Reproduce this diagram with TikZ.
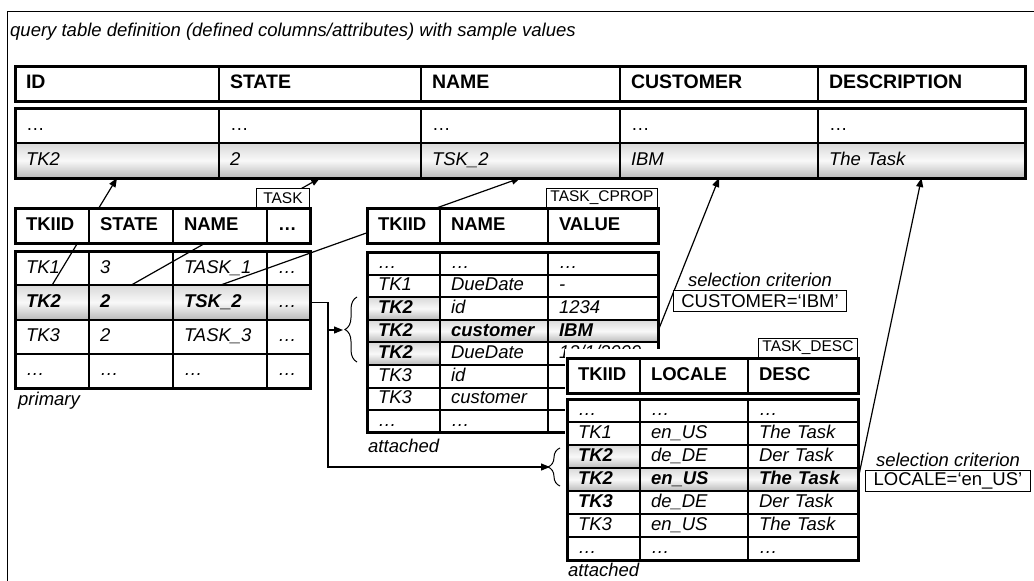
\documentclass[tikz,border=0pt]{standalone}
\usepackage{fontspec}
\setmainfont{Liberation Sans}
\usepackage{tikz}
\usetikzlibrary{arrows.meta, positioning, calc, decorations.pathreplacing}
\newcommand{\cellstrut}{\rule[-3pt]{0pt}{16pt}}

\begin{document}
\begin{tikzpicture}[
    x=1pt, y=-1pt,
    node distance=0pt,
    cell/.style={draw, line width=2pt, fill=white, inner xsep=11pt, inner ysep=0pt, outer sep=0pt, align=left, font=\fontsize{18.5}{20}\selectfont, execute at begin node=\cellstrut},
    val/.style={cell, font=\fontsize{18.5}{20}\selectfont\itshape},
    key/.style={cell, font=\fontsize{18.5}{20}\selectfont\bfseries\itshape},
    head/.style={cell, font=\fontsize{18.5}{20}\selectfont\bfseries},
    bighead/.style={cell, line width=1.5pt, font=\fontsize{19.5}{20}\selectfont\bfseries},
    hit/.style={top color=gray!30, bottom color=gray!55, middle color=gray!5},
    tabframe/.style={draw, line width=3pt},
    tablbl/.style={draw, line width=1pt, fill=white, anchor=south east, inner xsep=4pt, inner ysep=0pt, minimum height=19pt, font=\fontsize{15.5}{16}\selectfont},
    crit/.style={draw, line width=1pt, fill=white, inner xsep=8pt, inner ysep=0pt, minimum height=21pt, font=\fontsize{18.5}{20}\selectfont},
    note/.style={inner sep=0pt, font=\fontsize{18.5}{20}\selectfont\itshape},
    link/.style={-{Triangle[length=9pt, width=7pt]}, line width=1.2pt},
    curly/.style={decorate, decoration={brace, amplitude=12pt}, line width=1pt},
    % column widths
    qa/.style={text width=182pt}, qb/.style={text width=180pt}, qc/.style={text width=177pt},
    qd/.style={text width=176pt}, qe/.style={text width=185pt},
    pa/.style={text width=52pt}, pb/.style={text width=62pt}, pc/.style={text width=72pt}, pd/.style={text width=21pt},
    ca/.style={text width=51pt}, cb/.style={text width=86pt}, cc/.style={text width=88pt},
    % row heights
    tall/.style={minimum height=35pt},
    prow/.style={minimum height=34.25pt},
    crow/.style={minimum height=22.6pt},
    drow/.style={minimum height=23pt}
]
\useasboundingbox (0,0) rectangle (1034,581);
\clip (0,0) rectangle (1034,581);

\draw[line width=1pt] (7,11) rectangle (1050,600);
\node[note, anchor=base west] (caption) at (10,36) {query table definition (defined columns/attributes) with sample values};

% Query table
\node[bighead, qa, tall, anchor=north west] (qh_id) at (15,66) {ID};
\node[bighead, qb, tall, right=of qh_id] (qh_state) {STATE};
\node[bighead, qc, tall, right=of qh_state] (qh_name) {NAME};
\node[bighead, qd, tall, right=of qh_name] (qh_cust) {CUSTOMER};
\node[bighead, qe, tall, right=of qh_cust] (qh_desc) {DESCRIPTION};
\draw[tabframe] (qh_id.north west) rectangle (qh_desc.south east);

\node[cell, qa, tall, below=7pt of qh_id] (qd_id) {…};
\node[cell, qb, tall, right=of qd_id] (qd_state) {…};
\node[cell, qc, tall, right=of qd_state] (qd_name) {…};
\node[cell, qd, tall, right=of qd_name] (qd_cust) {…};
\node[cell, qe, tall, right=of qd_cust] (qd_desc) {…};
\node[val, hit, qa, tall, below=of qd_id] (qv_id) {TK2};
\node[val, hit, qb, tall, right=of qv_id] (qv_state) {2};
\node[val, hit, qc, tall, right=of qv_state] (qv_name) {TSK\_2};
\node[val, hit, qd, tall, right=of qv_name] (qv_cust) {IBM};
\node[val, hit, qe, tall, right=of qv_cust] (qv_desc) {The Task};
\draw[tabframe] (qd_id.north west) rectangle (qv_desc.south east);

% TASK rows
\node[val, pa, prow, anchor=north west] (t1_id) at (15,251) {TK1};
\node[val, pb, prow, right=of t1_id] (t1_state) {3};
\node[val, pc, prow, right=of t1_state] (t1_name) {TASK\_1};
\node[val, pd, prow, right=of t1_name] (t1_more) {…};
\node[key, hit, pa, prow, below=of t1_id] (t2_id) {TK2};
\node[key, hit, pb, prow, right=of t2_id] (t2_state) {2};
\node[key, hit, pc, prow, right=of t2_state] (t2_name) {TSK\_2};
\node[val, hit, pd, prow, right=of t2_name] (t2_more) {…};
\node[val, pa, prow, below=of t2_id] (t3_id) {TK3};
\node[val, pb, prow, right=of t3_id] (t3_state) {2};
\node[val, pc, prow, right=of t3_state] (t3_name) {TASK\_3};
\node[val, pd, prow, right=of t3_name] (t3_more) {…};
\node[val, pa, prow, below=of t3_id] (t4_id) {…};
\node[val, pb, prow, right=of t4_id] (t4_state) {…};
\node[val, pc, prow, right=of t4_state] (t4_name) {…};
\node[val, pd, prow, right=of t4_name] (t4_more) {…};
\draw[tabframe] (t1_id.north west) rectangle (t4_more.south east);
\node[note, anchor=base west] (primary_note) at (18,405) {primary};

% TASK_CPROP rows
\node[val, ca, crow, anchor=north west] (c1_id) at (367,252) {…};
\node[val, cb, crow, right=of c1_id] (c1_name) {…};
\node[val, cc, crow, right=of c1_name] (c1_value) {…};
\node[val, ca, crow, below=of c1_id] (c2_id) {TK1};
\node[val, cb, crow, right=of c2_id] (c2_name) {DueDate};
\node[val, cc, crow, right=of c2_name] (c2_value) {-};
\node[key, hit, ca, crow, below=of c2_id] (c3_id) {TK2};
\node[val, cb, crow, right=of c3_id] (c3_name) {id};
\node[val, cc, crow, right=of c3_name] (c3_value) {1234};
\node[key, hit, ca, crow, below=of c3_id] (c4_id) {TK2};
\node[key, hit, cb, crow, right=of c4_id] (c4_name) {customer};
\node[key, hit, cc, crow, right=of c4_name] (c4_value) {IBM};
\node[key, hit, ca, crow, below=of c4_id] (c5_id) {TK2};
\node[val, cb, crow, right=of c5_id] (c5_name) {DueDate};
\node[val, cc, crow, right=of c5_name] (c5_value) {12/1/2009};
\node[val, ca, crow, below=of c5_id] (c6_id) {TK3};
\node[val, cb, crow, right=of c6_id] (c6_name) {id};
\node[val, cc, crow, right=of c6_name] (c6_value) {};
\node[val, ca, crow, below=of c6_id] (c7_id) {TK3};
\node[val, cb, crow, right=of c7_id] (c7_name) {customer};
\node[val, cc, crow, right=of c7_name] (c7_value) {};
\node[val, ca, crow, below=of c7_id] (c8_id) {…};
\node[val, cb, crow, right=of c8_id] (c8_name) {…};
\node[val, cc, crow, right=of c8_name] (c8_value) {};
\draw[tabframe] (c1_id.north west) rectangle (c8_value.south east);
\node[note, anchor=base west] (cprop_note) at (368,452) {attached};

% Links into the query table
\draw[link] (t2_id.north) -- (qv_id.south);
\draw[link] (t2_state.north) -- (qv_state.south);
\draw[link] (t2_name.north) -- (qv_name.south);
\draw[link] (c4_value.east) -- (qv_cust.south);

% TASK header
\node[head, pa, tall, anchor=north west] (th_id) at (15,208) {TKIID};
\node[head, pb, tall, right=of th_id] (th_state) {STATE};
\node[head, pc, tall, right=of th_state] (th_name) {NAME};
\node[head, pd, tall, right=of th_name] (th_more) {…};
\draw[tabframe] (th_id.north west) rectangle (th_more.south east);
\node[tablbl, minimum width=53pt] (task_lbl) at (th_more.north east) {TASK};

% TASK_CPROP header
\node[head, ca, tall, anchor=north west] (ch_id) at (367,208) {TKIID};
\node[head, cb, tall, right=of ch_id] (ch_name) {NAME};
\node[head, cc, tall, right=of ch_name] (ch_value) {VALUE};
\draw[tabframe] (ch_id.north west) rectangle (ch_value.south east);
\node[tablbl] (cprop_lbl) at (ch_value.north east) {TASK\_CPROP};

% TASK_DESC
\fill[white] (565,349) rectangle (862,563);
\node[head, ca, tall, anchor=north west] (dh_id) at (567,358) {TKIID};
\node[head, cb, tall, right=of dh_id] (dh_loc) {LOCALE};
\node[head, cc, tall, right=of dh_loc] (dh_desc) {DESC};
\draw[tabframe] (dh_id.north west) rectangle (dh_desc.south east);
\node[tablbl] (desc_lbl) at (dh_desc.north east) {TASK\_DESC};

\node[val, ca, drow, below=6pt of dh_id] (d1_id) {…};
\node[val, cb, drow, right=of d1_id] (d1_loc) {…};
\node[val, cc, drow, right=of d1_loc] (d1_desc) {…};
\node[val, ca, drow, below=of d1_id] (d2_id) {TK1};
\node[val, cb, drow, right=of d2_id] (d2_loc) {en\_US};
\node[val, cc, drow, right=of d2_loc] (d2_desc) {The Task};
\node[key, hit, ca, drow, below=of d2_id] (d3_id) {TK2};
\node[val, cb, drow, right=of d3_id] (d3_loc) {de\_DE};
\node[val, cc, drow, right=of d3_loc] (d3_desc) {Der Task};
\node[key, hit, ca, drow, below=of d3_id] (d4_id) {TK2};
\node[key, hit, cb, drow, right=of d4_id] (d4_loc) {en\_US};
\node[key, hit, cc, drow, right=of d4_loc] (d4_desc) {The Task};
\node[key, ca, drow, below=of d4_id] (d5_id) {TK3};
\node[val, cb, drow, right=of d5_id] (d5_loc) {de\_DE};
\node[val, cc, drow, right=of d5_loc] (d5_desc) {Der Task};
\node[val, ca, drow, below=of d5_id] (d6_id) {TK3};
\node[val, cb, drow, right=of d6_id] (d6_loc) {en\_US};
\node[val, cc, drow, right=of d6_loc] (d6_desc) {The Task};
\node[val, ca, drow, below=of d6_id] (d7_id) {…};
\node[val, cb, drow, right=of d7_id] (d7_loc) {…};
\node[val, cc, drow, right=of d7_loc] (d7_desc) {…};
\draw[tabframe] (d1_id.north west) rectangle (d7_desc.south east);
\node[note, anchor=base west] (desc_note) at (568,576) {attached};

\draw[link] (d4_desc.east) -- (qv_desc.south);

% Selection criteria
\node[crit] (crit_cust) at (760,301) {CUSTOMER=‘IBM’};
\node[note, above=3pt of crit_cust] (crit_cust_lbl) {selection criterion};
\node[crit] (crit_loc) at (948,481) {LOCALE=‘en\_US’};
\node[note, above=3pt of crit_loc] (crit_loc_lbl) {selection criterion};

% Joins to the attached tables
\coordinate (split) at ($(t2_more.east)+(18,0)$);
\coordinate (brace_cprop) at (343,330);
\coordinate (brace_desc) at (550,467);
\draw[curly] (357,362) -- (357,297);
\draw[curly] (560,486) -- (560,448);
\draw[link] (t2_more.east) -- (split) |- (brace_cprop);
\draw[link] (split) |- (brace_desc);
\end{tikzpicture}
\end{document}
